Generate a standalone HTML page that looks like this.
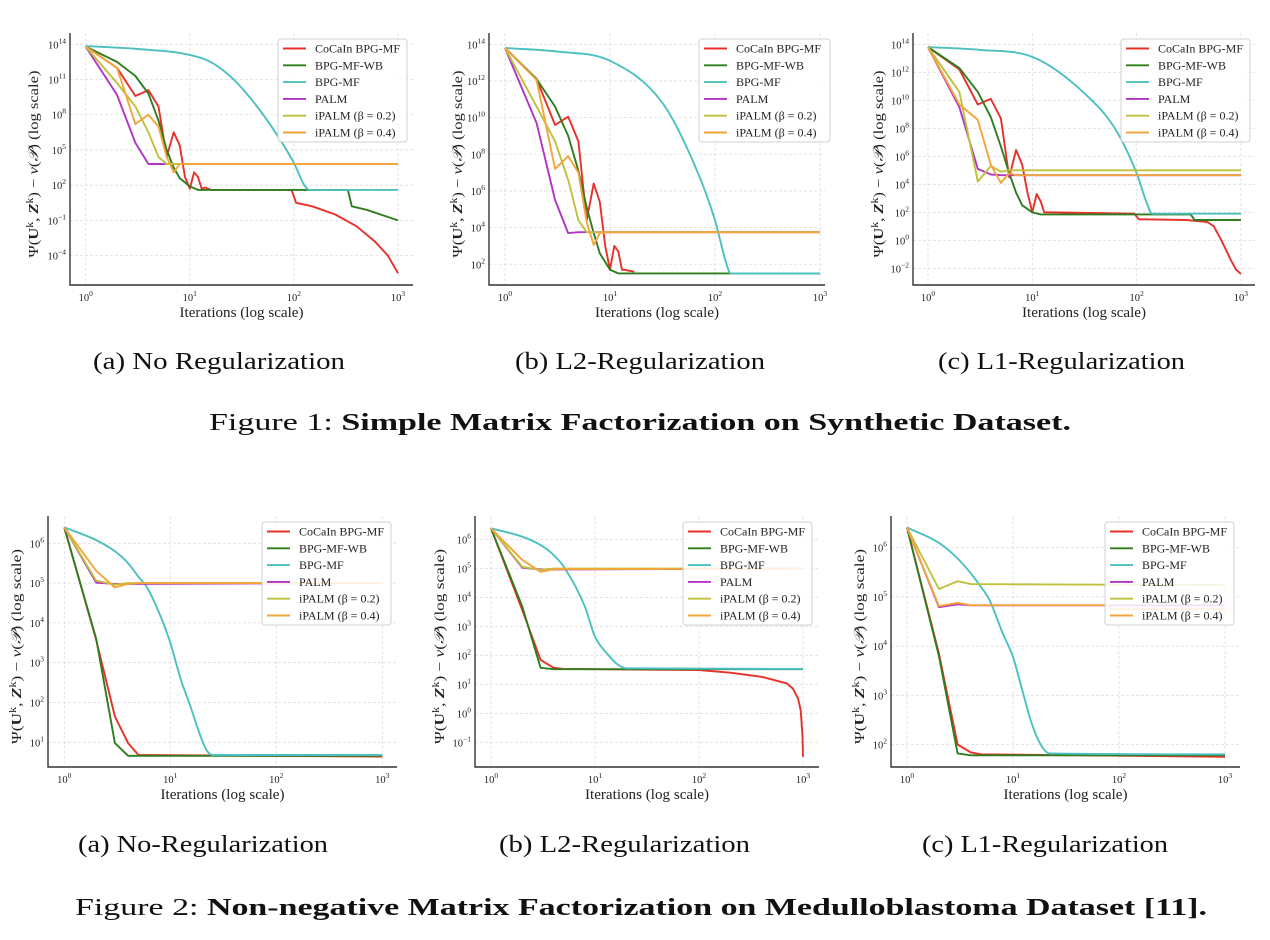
<!DOCTYPE html>
<html><head><meta charset="utf-8"><style>
html,body{margin:0;padding:0;background:#fff;}
svg{display:block;font-family:"Liberation Serif",serif;}
</style></head><body>
<svg id="fig" width="1270" height="940" viewBox="0 0 1270 940" xmlns="http://www.w3.org/2000/svg">
<g id="plots"></g>
<g fill="#111">
<text x="93" y="369" font-size="24" textLength="252" lengthAdjust="spacingAndGlyphs">(a) No Regularization</text>
<text x="515" y="369" font-size="24" textLength="250" lengthAdjust="spacingAndGlyphs">(b) L2-Regularization</text>
<text x="938" y="369" font-size="24" textLength="247" lengthAdjust="spacingAndGlyphs">(c) L1-Regularization</text>
<text x="209" y="430" font-size="24" textLength="862" lengthAdjust="spacingAndGlyphs">Figure 1: <tspan font-weight="bold">Simple Matrix Factorization on Synthetic Dataset.</tspan></text>
<text x="78" y="852" font-size="24" textLength="250" lengthAdjust="spacingAndGlyphs">(a) No-Regularization</text>
<text x="499" y="852" font-size="24" textLength="251" lengthAdjust="spacingAndGlyphs">(b) L2-Regularization</text>
<text x="922" y="852" font-size="24" textLength="246" lengthAdjust="spacingAndGlyphs">(c) L1-Regularization</text>
<text x="75" y="915" font-size="24" textLength="1132" lengthAdjust="spacingAndGlyphs">Figure 2: <tspan font-weight="bold">Non-negative Matrix Factorization on Medulloblastoma Dataset [11].</tspan></text>
</g>
</svg>
<script>
// ---- shared labels ----
const seriesNames = ["CoCaIn BPG-MF","BPG-MF-WB","BPG-MF","PALM","iPALM (β = 0.2)","iPALM (β = 0.4)"];
const xTickExps = [0,1,2,3];
// ---- panel 1a (y values are log10 exponents) ----
const p1a_red_it=[1,2,3,4,5,6,7,8,9,10,11,12,13,14,16,95,105,150,250,400,600,800,1000];
const p1a_red_v=[13.8,12,9.6,10.1,8.7,4.4,6.5,5.4,2.7,1.7,3.1,2.7,1.7,1.8,1.6,1.6,0.5,0.2,-0.5,-1.5,-2.8,-4,-5.5];
const p1a_grn_it=[1,2,3,4,5,6,7,8,10,12,330,360,500,1000];
const p1a_grn_v=[13.8,12.5,11.3,9.8,7.5,5,3.5,2.6,1.9,1.6,1.6,0.2,-0.1,-1.0];
const p1a_cyn_it=[1,3.16,10,15.8,25,40,63,100,126,141,1000];
const p1a_cyn_v=[13.85,13.6,13.1,12.5,11.2,9.2,6.8,3.9,2.0,1.6,1.6];
const p1a_pur_it=[1,2,3,4,5,1000];
const p1a_pur_v=[13.8,9.7,5.6,3.8,3.8,3.8];
const p1a_olv_it=[1,2,3,4,5,6,1000];
const p1a_olv_v=[13.8,10.7,8.7,6.5,4.4,3.8,3.8];
const p1a_org_it=[1,2,3,4,5,6,7,8,1000];
const p1a_org_v=[13.8,12.0,7.2,8.0,7.0,4.4,3.1,3.8,3.8];
const p1a_yticks=[14,11,8,5,2,-1,-4];
// ---- panel 1b ----
const p1b_red_it=[1,2,3,4,5,6,7,8,9,10,11,12,13,14,15,17];
const p1b_red_v=[13.8,12.1,9.6,10.05,8.7,4.4,6.4,5.4,3,1.7,3,2.7,1.7,1.7,1.65,1.6];
const p1b_grn_it=[1,2,3,4,5,6,7,8,10,12,1000];
const p1b_grn_v=[13.8,12.1,10.6,9,7.1,5.1,3.7,2.6,1.7,1.5,1.5];
const p1b_cyn_it=[1,3.16,10,31.6,63,100,126,141,1000];
const p1b_cyn_v=[13.8,13.6,13.1,10.8,7.5,4.4,2.2,1.5,1.5];
const p1b_pur_it=[1,2,3,4,5,1000];
const p1b_pur_v=[13.8,9.7,5.5,3.7,3.75,3.75];
const p1b_olv_it=[1,2,3,4,5,6,1000];
const p1b_olv_v=[13.8,10.6,8.7,6.6,4.4,3.75,3.75];
const p1b_org_it=[1,2,3,4,5,6,7,8,9,1000];
const p1b_org_v=[13.8,12.05,7.2,7.9,7.0,4.3,3.05,3.7,3.75,3.75];
const p1b_yticks=[14,12,10,8,6,4,2];
// ---- panel 1c ----
const p1c_red_it=[1,2,3,4,5,6,7,8,9,10,11,12,13,15,95,105,300,480,550,650,800,900,1000];
const p1c_red_v=[13.8,12.2,9.7,10.1,8.7,4.5,6.45,5.4,3.4,2.0,3.3,2.8,2.0,2.0,1.9,1.5,1.45,1.3,1.0,0,-1.4,-2.1,-2.4];
const p1c_grn_it=[1,2,3,4,5,6,7,8,10,12,330,360,1000];
const p1c_grn_v=[13.8,12.3,10.6,8.8,6.7,4.8,3.4,2.5,2.0,1.85,1.85,1.45,1.45];
const p1c_cyn_it=[1,3.16,10,31.6,63,100,126,141,1000];
const p1c_cyn_v=[13.8,13.6,13.1,10.5,7.9,4.8,2.6,1.9,1.9];
const p1c_pur_it=[1,2,3,4,5,1000];
const p1c_pur_v=[13.8,9.5,5.1,4.7,4.65,4.65];
const p1c_olv_it=[1,2,3,4,5,6,1000];
const p1c_olv_v=[13.8,10.6,4.2,5.3,4.9,5.0,5.0];
const p1c_org_it=[1,2,3,4,5,6,7,1000];
const p1c_org_v=[13.8,9.7,8.6,5.4,4.1,4.8,4.65,4.65];
const p1c_yticks=[14,12,10,8,6,4,2,0,-2];
// ---- panel 2a ----
const p2a_red_it=[1,2,3,4,5,1000];
const p2a_red_v=[6.4,3.57,1.65,0.98,0.68,0.64];
const p2a_grn_it=[1,2,3,4,1000];
const p2a_grn_v=[6.4,3.6,0.98,0.66,0.66];
const p2a_cyn_it=[1,2,3,4,5,6,8,10,12.6,15.5,19,22,25,1000];
const p2a_cyn_v=[6.4,6.08,5.8,5.5,5.16,4.9,4.2,3.5,2.57,1.9,1.2,0.8,0.68,0.68];
const p2a_pur_it=[1,2,3,1000];
const p2a_pur_v=[6.4,5.01,4.98,5.0];
const p2a_olv_it=[1,2,3,4,1000];
const p2a_olv_v=[6.4,5.06,4.96,5.0,5.0];
const p2a_org_it=[1,2,3,4,5,1000];
const p2a_org_v=[6.4,5.31,4.89,4.98,5.0,5.0];
const p2a_yticks=[6,5,4,3,2,1];
// ---- panel 2b ----
const p2b_red_it=[1,2,3,4,5,100,200,400,700,800,900,950,990,1000];
const p2b_red_v=[6.38,3.56,1.84,1.57,1.53,1.49,1.4,1.26,1.03,0.85,0.5,0.1,-0.8,-1.5];
const p2b_grn_it=[1,2,3,4,1000];
const p2b_grn_v=[6.38,3.68,1.57,1.52,1.52];
const p2b_cyn_it=[1,2,3,4,5,8,10,13,16,20,1000];
const p2b_cyn_v=[6.38,6.09,5.8,5.46,5.06,3.68,2.64,2.07,1.72,1.55,1.53];
const p2b_pur_it=[1,2,3,1000];
const p2b_pur_v=[6.38,5.02,4.96,4.99];
const p2b_olv_it=[1,2,3,4,1000];
const p2b_olv_v=[6.38,5.05,4.94,4.99,4.99];
const p2b_org_it=[1,2,3,4,1000];
const p2b_org_v=[6.38,5.29,4.88,4.97,4.99];
const p2b_yticks=[6,5,4,3,2,1,0,-1];
// ---- panel 2c ----
const p2c_red_it=[1,2,3,4,5,1000];
const p2c_red_v=[6.41,3.85,2.0,1.84,1.8,1.75];
const p2c_grn_it=[1,2,3,4,1000];
const p2c_grn_v=[6.41,3.8,1.82,1.78,1.78];
const p2c_cyn_it=[1,2,3,4,5,6,8,10,12,15,18,22,1000];
const p2c_cyn_v=[6.41,6.1,5.78,5.48,5.2,4.94,4.26,3.78,3.17,2.43,2.02,1.82,1.8];
const p2c_pur_it=[1,2,3,4,1000];
const p2c_pur_v=[6.41,4.79,4.85,4.83,4.83];
const p2c_olv_it=[1,2,3,4,1000];
const p2c_olv_v=[6.41,5.16,5.32,5.26,5.24];
const p2c_org_it=[1,2,3,4,80,85,1000];
const p2c_org_v=[6.41,4.81,4.88,4.83,4.83,4.75,4.75];
const p2c_yticks=[6,5,4,3,2];

const colors=["#e8302a","#2f7d1f","#4cc0c0","#b235c5","#bfc03c","#f2a53a"];
const NS="http://www.w3.org/2000/svg";
const root=document.getElementById('plots');
function mk(tag,attrs,parent){const e=document.createElementNS(NS,tag);for(const k in attrs)e.setAttribute(k,attrs[k]);(parent||root).appendChild(e);return e;}

function smoothPath(P){
  const n=P.length; if(n<3) return 'M'+P.map(p=>p.join(',')).join(' L');
  const d=[],m=[];
  for(let i=0;i<n-1;i++){d.push((P[i+1][1]-P[i][1])/(P[i+1][0]-P[i][0]));}
  m[0]=d[0]; m[n-1]=d[n-2];
  for(let i=1;i<n-1;i++){ m[i]=(d[i-1]*d[i]<=0)?0:(d[i-1]+d[i])/2; }
  for(let i=0;i<n-1;i++){ if(d[i]===0){m[i]=0;m[i+1]=0;continue;}
    const a=m[i]/d[i],b=m[i+1]/d[i],s=a*a+b*b; if(s>9){const t=3/Math.sqrt(s);m[i]=t*a*d[i];m[i+1]=t*b*d[i];}}
  let s='M'+P[0][0].toFixed(1)+','+P[0][1].toFixed(1);
  for(let i=0;i<n-1;i++){const h=(P[i+1][0]-P[i][0])/3;
    s+=` C${(P[i][0]+h).toFixed(1)},${(P[i][1]+m[i]*h).toFixed(1)} ${(P[i+1][0]-h).toFixed(1)},${(P[i+1][1]-m[i+1]*h).toFixed(1)} ${P[i+1][0].toFixed(1)},${P[i+1][1].toFixed(1)}`;}
  return s;
}

const panels=[
 {id:"1a",left:70,right:413,top:33,bottom:285,x0:85.7,xd:104.1,yRef:44.3,yRefExp:14,yd:11.74,leg:[278,39,129,103],ylabX:38,ylabLen:187,
  series:[[p1a_red_it,p1a_red_v],[p1a_grn_it,p1a_grn_v],[p1a_cyn_it,p1a_cyn_v],[p1a_pur_it,p1a_pur_v],[p1a_olv_it,p1a_olv_v],[p1a_org_it,p1a_org_v]],yt:p1a_yticks},
 {id:"1b",left:489,right:825,top:33,bottom:285,x0:505,xd:105,yRef:44.3,yRefExp:14,yd:18.33,leg:[699,39,131,103],ylabX:462,ylabLen:187,
  series:[[p1b_red_it,p1b_red_v],[p1b_grn_it,p1b_grn_v],[p1b_cyn_it,p1b_cyn_v],[p1b_pur_it,p1b_pur_v],[p1b_olv_it,p1b_olv_v],[p1b_org_it,p1b_org_v]],yt:p1b_yticks},
 {id:"1c",left:913,right:1255,top:33,bottom:285,x0:928,xd:104.3,yRef:44.3,yRefExp:14,yd:14.0,leg:[1121,39,129,103],ylabX:883,ylabLen:187,
  series:[[p1c_red_it,p1c_red_v],[p1c_grn_it,p1c_grn_v],[p1c_cyn_it,p1c_cyn_v],[p1c_pur_it,p1c_pur_v],[p1c_olv_it,p1c_olv_v],[p1c_org_it,p1c_org_v]],yt:p1c_yticks},
 {id:"2a",left:48,right:397,top:516,bottom:767,x0:64.3,xd:106,yRef:543.3,yRefExp:6,yd:39.8,leg:[262,522,129,103],ylabX:21,ylabLen:195,
  series:[[p2a_red_it,p2a_red_v],[p2a_grn_it,p2a_grn_v],[p2a_cyn_it,p2a_cyn_v],[p2a_pur_it,p2a_pur_v],[p2a_olv_it,p2a_olv_v],[p2a_org_it,p2a_org_v]],yt:p2a_yticks},
 {id:"2b",left:475,right:819,top:516,bottom:767,x0:491,xd:104,yRef:539.3,yRefExp:6,yd:29.0,leg:[683,522,129,103],ylabX:444,ylabLen:195,
  series:[[p2b_red_it,p2b_red_v],[p2b_grn_it,p2b_grn_v],[p2b_cyn_it,p2b_cyn_v],[p2b_pur_it,p2b_pur_v],[p2b_olv_it,p2b_olv_v],[p2b_org_it,p2b_org_v]],yt:p2b_yticks},
 {id:"2c",left:891,right:1240,top:516,bottom:767,x0:907,xd:106,yRef:547.7,yRefExp:6,yd:49.2,leg:[1105,522,129,103],ylabX:864,ylabLen:195,
  series:[[p2c_red_it,p2c_red_v],[p2c_grn_it,p2c_grn_v],[p2c_cyn_it,p2c_cyn_v],[p2c_pur_it,p2c_pur_v],[p2c_olv_it,p2c_olv_v],[p2c_org_it,p2c_org_v]],yt:p2c_yticks}
];

panels.forEach(p=>{
  const xs=it=>p.x0+Math.log10(it)*p.xd;
  const ys=v=>p.yRef+(p.yRefExp-v)*p.yd;
  const g=mk('g',{});
  
  
  xTickExps.forEach(e=>{const x=p.x0+e*p.xd;
    const l=mk('line',{x1:x,x2:x,y1:p.top,y2:p.bottom,stroke:"#ddd","stroke-width":0.8,"stroke-dasharray":"3,2"},g);
    
    
    const t=mk('text',{x:x,y:p.bottom+16,"font-size":10.5,"text-anchor":"middle",fill:"#222"},g);
    
    
    t.textContent='10';const s=mk('tspan',{dy:-5,"font-size":7.5},t);s.textContent=String(e);
  });
  p.yt.forEach(e=>{const y=ys(e);
    const l=mk('line',{x1:p.left,x2:p.right,y1:y,y2:y,stroke:"#ddd","stroke-width":0.8,"stroke-dasharray":"3,2"},g);
    
    
    const t=mk('text',{x:p.left-4,y:y+4,"font-size":10.5,"text-anchor":"end",fill:"#222"},g);
    
    
    t.textContent='10';
    const s=mk('tspan',{dy:-5,"font-size":7.5},t);s.textContent=(e<0?'−'+(-e):String(e));
  });
  p.series.forEach((s,i)=>{
    const P=s[0].map((it,k)=>[xs(it),ys(s[1][k])]);
    let el;
    if(i===2){
      el=mk('path',{d:smoothPath(P),fill:"none",stroke:colors[i],"stroke-width":1.9},g);
    } else {
      el=mk('polyline',{points:P.map(q=>q[0].toFixed(1)+','+q[1].toFixed(1)).join(' '),fill:"none",stroke:colors[i],"stroke-width":1.9,"stroke-linejoin":"round"},g);
    }
    
    
  });
  const sp=mk('path',{d:`M${p.left},${p.top} V${p.bottom} H${p.right}`,fill:"none",stroke:"#333","stroke-width":1.4},g);
  
  
  const xl=mk('text',{x:(p.left+p.right)/2,y:p.bottom+32,"font-size":15,"text-anchor":"middle",fill:"#222",textLength:124,lengthAdjust:"spacingAndGlyphs"},g);
  
  
  xl.textContent='Iterations (log scale)';
  const cy=(p.top+p.bottom)/2+5;
  const yl=mk('text',{x:p.ylabX,y:cy,"font-size":14,"text-anchor":"middle",fill:"#222",textLength:p.ylabLen,lengthAdjust:"spacingAndGlyphs",transform:`rotate(-90 ${p.ylabX} ${cy})`},g);
  
  
  yl.innerHTML='Ψ(<tspan font-weight="bold">U</tspan><tspan dy="-5" font-size="10">k</tspan><tspan dy="5">, </tspan><tspan font-weight="bold" font-style="italic">Z</tspan><tspan dy="-5" font-size="10">k</tspan><tspan dy="5">) − </tspan><tspan font-style="italic">v</tspan>(<tspan font-style="italic">𝒫</tspan>) (log scale)';
  const [lx,ly,lw,lh]=p.leg;
  const lg=mk('g',{},g);
  
  
  mk('rect',{x:lx,y:ly,width:lw,height:lh,rx:3,fill:"#fff","fill-opacity":0.85,stroke:"#d0d0d0","stroke-width":1},lg);
  seriesNames.forEach((n,i)=>{const yy=ly+9.5+i*16.8;
    const e=mk('g',{},lg);
    
    
    mk('line',{x1:lx+5,x2:lx+28,y1:yy,y2:yy,stroke:colors[i],"stroke-width":1.9},e);
    const t=mk('text',{x:lx+37,y:yy+4,"font-size":12,fill:"#222"},e);
    t.textContent=n;
  });
});
</script>
</body></html>
